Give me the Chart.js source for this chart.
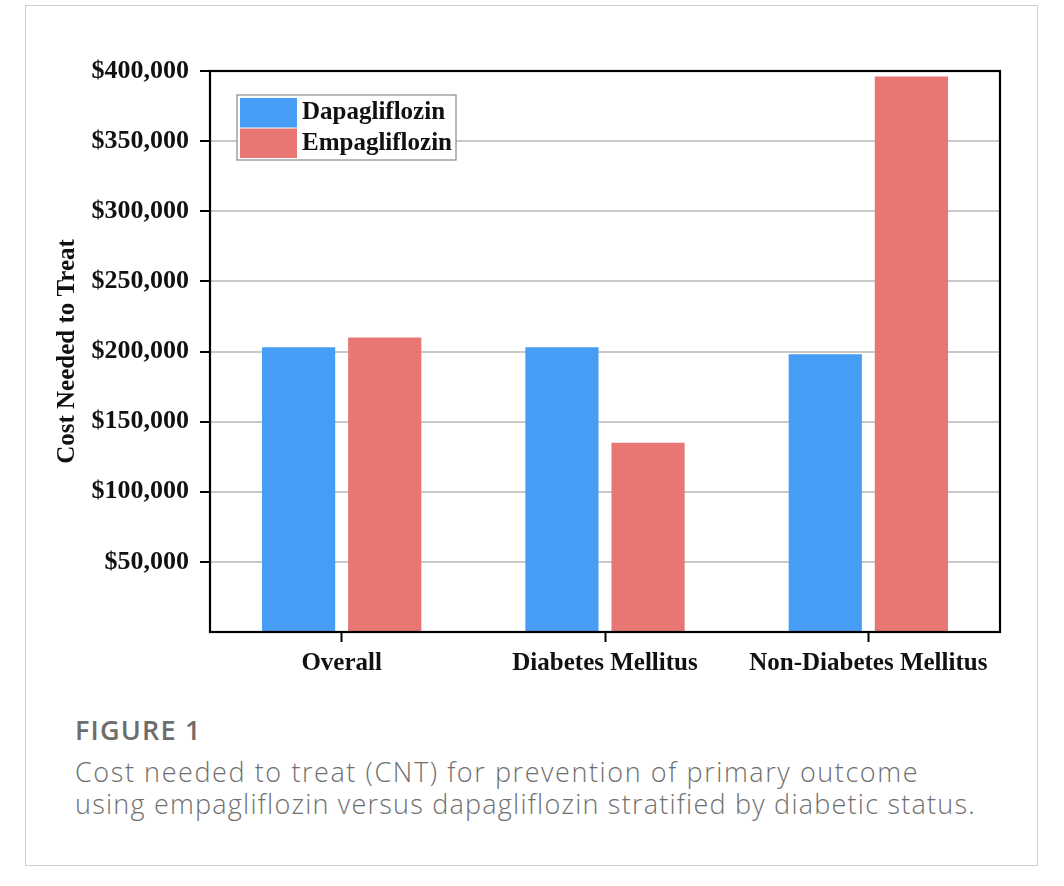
<!DOCTYPE html>
<html>
<head>
<meta charset="utf-8">
<script src="https://cdn.jsdelivr.net/npm/chart.js@4.4.1/dist/chart.umd.min.js"></script>
<style>
  html, body { margin: 0; padding: 0; background: #fff; }
  body { width: 1064px; height: 886px; position: relative; overflow: hidden; }
  #panel { position: absolute; left: 25px; top: 5px; width: 1011px; height: 859px; border: 1.5px solid #cfcfcf; }
  #wrap { position: absolute; left: 0; top: 0; width: 1064px; height: 700px; }
  .cap { position: absolute; left: 75px; font-family: "Open Sans", sans-serif; white-space: nowrap; }
  #fig { top: 712px; font-size: 27px; font-weight: 600; color: #6d6d6d; line-height: 36px; letter-spacing: 1.2px; }
  #c1 { top: 756px; font-size: 27px; font-weight: 300; color: #6f6f6f; line-height: 32px; letter-spacing: 1.58px; }
  #c2 { top: 788px; font-size: 27px; font-weight: 300; color: #6f6f6f; line-height: 32px; letter-spacing: 1.22px; }
</style>
</head>
<body>
<div id="panel"></div>
<div id="wrap"><canvas id="chart"></canvas></div>
<div class="cap" id="fig">FIGURE 1</div>
<div class="cap" id="c1">Cost needed to treat (CNT) for prevention of primary outcome</div>
<div class="cap" id="c2">using empagliflozin versus dapagliflozin stratified by diabetic status.</div>
<script>
const categories = ["Overall", "Diabetes Mellitus", "Non-Diabetes Mellitus"];
const seriesNames = ["Dapagliflozin", "Empagliflozin"];
const dapagliflozin = [203000, 203000, 198000];
const empagliflozin = [210000, 135000, 396000];
const yTicks = [0, 50000, 100000, 150000, 200000, 250000, 300000, 350000, 400000];

const BLUE = "#479cf5";
const RED = "#e87773";
const SERIF = "'Liberation Serif', 'Times New Roman', serif";

function fmt(v) {
  return "$" + v.toString().replace(/\B(?=(\d{3})+(?!\d))/g, ",");
}

const framePlugin = {
  id: "frame",
  afterDatasetsDraw(chart) {
    const { ctx, chartArea: a } = chart;
    ctx.save();
    ctx.strokeStyle = "#000";
    ctx.lineWidth = 2.2;
    ctx.strokeRect(a.left, a.top, a.right - a.left, a.bottom - a.top);
    ctx.restore();
  }
};

const legendPlugin = {
  id: "boxLegend",
  afterDraw(chart) {
    const { ctx, chartArea: a } = chart;
    const x0 = a.left + 27, y0 = a.top + 24;
    const w = 219, h = 65;
    ctx.save();
    ctx.fillStyle = "#fff";
    ctx.fillRect(x0, y0, w, h);
    ctx.strokeStyle = "#8a8a8a";
    ctx.lineWidth = 1.2;
    ctx.strokeRect(x0, y0, w, h);
    ctx.font = "bold 25px " + SERIF;
    ctx.textBaseline = "middle";
    chart.data.datasets.forEach((ds, i) => {
      const sy = y0 + 3 + i * 30.5;
      ctx.fillStyle = ds.backgroundColor;
      ctx.fillRect(x0 + 3, sy, 57, 29.5);
      ctx.fillStyle = "#111";
      ctx.fillText(ds.label, x0 + 65, sy + 15);
    });
    ctx.restore();
  }
};

const ctx = document.getElementById("chart");
new Chart(ctx, {
  type: "bar",
  data: {
    labels: categories,
    datasets: [
      { label: seriesNames[0], data: dapagliflozin, backgroundColor: BLUE },
      { label: seriesNames[1], data: empagliflozin, backgroundColor: RED }
    ]
  },
  options: {
    responsive: true,
    maintainAspectRatio: false,
    animation: false,
    devicePixelRatio: 1,
    categoryPercentage: 0.654,
    barPercentage: 0.85,
    layout: { padding: { left: 0, right: 64, top: 71, bottom: 0 } },
    plugins: { legend: { display: false }, tooltip: { enabled: false } },
    scales: {
      x: {
        offset: true,
        grid: { display: true, offset: false, drawOnChartArea: false, drawTicks: true, tickLength: 10, tickColor: "#000", tickWidth: 2 },
        border: { display: true, color: "#000", width: 2 },
        ticks: { color: "#111", font: { family: SERIF, size: 25, weight: "bold" }, padding: 7, maxRotation: 0, autoSkip: false },
        afterFit(scale) { scale.height = 68; }
      },
      y: {
        min: 0,
        max: 400000,
        afterBuildTicks(scale) { scale.ticks = yTicks.map(v => ({ value: v })); },
        grid: {
          color: "#c9c9c9",
          lineWidth: 2,
          drawTicks: true,
          tickLength: 10,
          tickWidth: 2,
          tickColor: (c) => (c.tick && c.tick.value === 0 ? "rgba(0,0,0,0)" : "#000")
        },
        border: { display: true, color: "#000", width: 2 },
        ticks: {
          color: "#111",
          font: { family: SERIF, size: 26, weight: "bold" },
          padding: 11,
          callback: (v) => (v === 0 ? "" : fmt(v))
        },
        title: {
          display: true,
          text: "Cost Needed to Treat",
          color: "#111",
          font: { family: SERIF, size: 25, weight: "bold" },
          padding: { top: 53, bottom: 0 }
        },
        afterFit(scale) { scale.width = 210; }
      }
    }
  },
  plugins: [framePlugin, legendPlugin]
});
</script>
</body>
</html>
